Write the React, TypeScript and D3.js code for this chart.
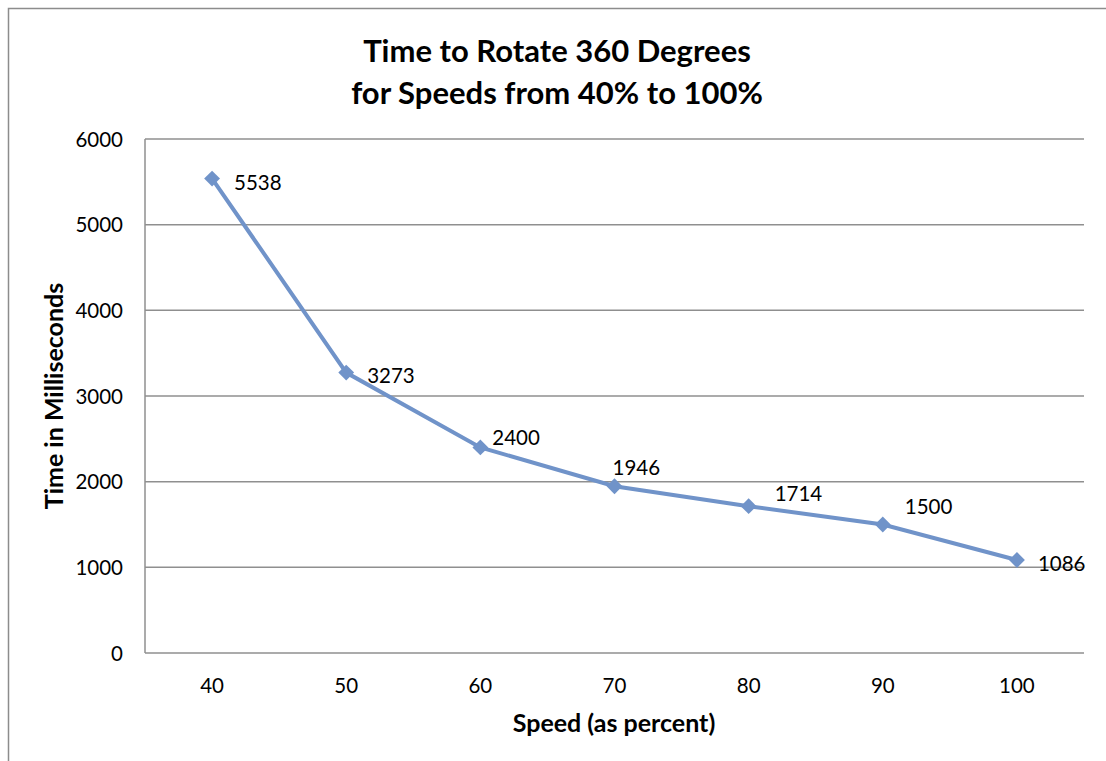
import React from "react";
import * as d3 from "d3";

const categories = ["40", "50", "60", "70", "80", "90", "100"];
const times = [5538, 3273, 2400, 1946, 1714, 1500, 1086];
const yTicks = [0, 1000, 2000, 3000, 4000, 5000, 6000];
const titleLines = ["Time to Rotate 360 Degrees", "for Speeds from 40% to 100%"];
// label offsets (layout, not data)
const labelDx = [22, 21, 12, -2, 26, 22, 21];
const labelDy = [4, 3, -10, -19, -13, -18, 3];

const W = 1106;
const H = 761;
const plot = { left: 145, right: 1084, top: 139, bottom: 653 };
const FONT = "Lato, 'Open Sans', sans-serif";
const BLUE = "#7093C9";

export default function App() {
  const x = d3.scaleBand<string>().domain(categories).range([plot.left, plot.right]);
  const y = d3.scaleLinear().domain([0, 6000]).range([plot.bottom, plot.top]);
  const cx = (c: string) => (x(c) ?? 0) + x.bandwidth() / 2;
  const line = d3
    .line<number>()
    .x((_, i) => cx(categories[i]))
    .y((d) => y(d));
  const diamond = d3.symbol().type(d3.symbolDiamond2).size(160)();

  return (
    <svg
      width={W}
      height={H}
      style={{ position: "absolute", left: 0, top: 0, background: "#fff" }}
      fontFamily={FONT}
    >
      <rect x={8.5} y={8.5} width={W + 20} height={H + 20} fill="#fff" stroke="#8c8c8c" strokeWidth={1.5} />
      {titleLines.map((t, i) => (
        <text key={t} x={557} y={62 + i * 42} textAnchor="middle" fontSize={31} fontWeight="bold" fill="#000">
          {t}
        </text>
      ))}
      {yTicks.map((t) => (
        <g key={t}>
          {t > 0 && (
            <line x1={plot.left} x2={plot.right} y1={y(t)} y2={y(t)} stroke="#8f8f8f" strokeWidth={1.5} />
          )}
          <text x={123} y={y(t)} dy="0.37em" textAnchor="end" fontSize={20.5} fill="#000">
            {t}
          </text>
        </g>
      ))}
      <line x1={plot.left} x2={plot.left} y1={plot.top} y2={plot.bottom} stroke="#8f8f8f" strokeWidth={1.5} />
      <line x1={plot.left} x2={plot.right} y1={plot.bottom} y2={plot.bottom} stroke="#8f8f8f" strokeWidth={1.5} />
      {categories.map((c) => (
        <text key={c} x={cx(c)} y={693} textAnchor="middle" fontSize={20.5} fill="#000">
          {c}
        </text>
      ))}
      <path d={line(times) ?? ""} fill="none" stroke={BLUE} strokeWidth={4} />
      {times.map((v, i) => (
        <path key={i} d={diamond ?? ""} transform={`translate(${cx(categories[i])},${y(v)})`} fill={BLUE} />
      ))}
      {times.map((v, i) => (
        <text
          key={"l" + i}
          x={cx(categories[i]) + labelDx[i]}
          y={y(v) + labelDy[i]}
          dy="0.37em"
          fontSize={20.5}
          fill="#000"
        >
          {v}
        </text>
      ))}
      <text x={614} y={732} textAnchor="middle" fontSize={25} fontWeight="bold" fill="#000">
        Speed (as percent)
      </text>
      <text
        transform={`translate(63,${(plot.top + plot.bottom) / 2}) rotate(-90)`}
        textAnchor="middle"
        fontSize={25}
        fontWeight="bold"
        fill="#000"
      >
        Time in Milliseconds
      </text>
    </svg>
  );
}
